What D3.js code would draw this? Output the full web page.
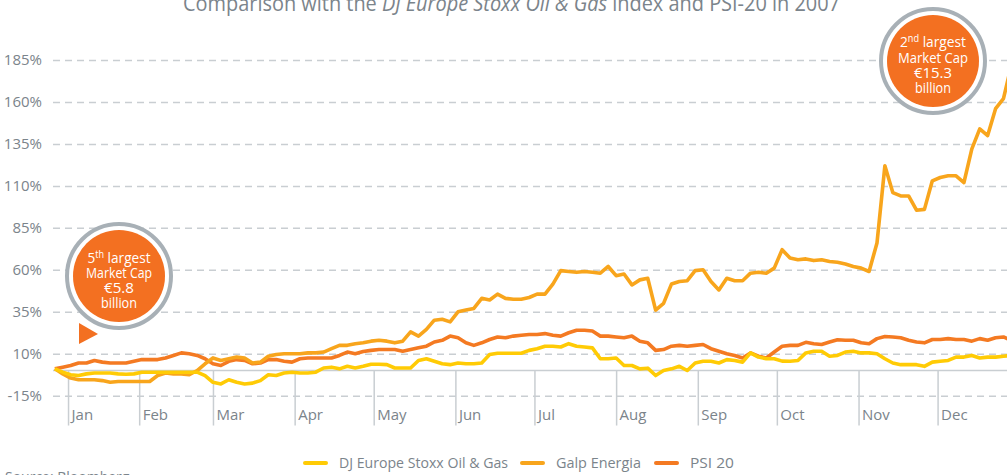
<!DOCTYPE html>
<html>
<head>
<meta charset="utf-8">
<script src="https://cdn.jsdelivr.net/npm/d3@7"></script>
<style>
	body { margin: 0; background: #fff; }
	svg { display: block; font-family: 'Open Sans', 'Noto Sans', sans-serif; }
</style>
</head>
<body>
<div id="chart"></div>
<script>

// ----------------------------------
// DATA (day of 2007, 0 = 1 Jan; values are % change)
// ----------------------------------

const days = [
	-1, 2, 5, 8, 11, 14, 17, 20, 23, 26,
	29, 32, 35, 38, 41, 44, 47, 50, 53, 56,
	59, 62, 65, 68, 71, 74, 77, 80, 83, 86,
	89, 92, 95, 98, 101, 104, 107, 110, 113, 116,
	119, 122, 125, 128, 131, 134, 137, 140, 143, 146,
	149, 152, 155, 158, 161, 164, 167, 170, 173, 176,
	179, 182, 185, 188, 191, 194, 197, 200, 203, 206,
	209, 212, 215, 218, 221, 224, 227, 230, 233, 236,
	239, 242, 245, 248, 251, 254, 257, 260, 263, 266,
	269, 272, 275, 278, 281, 284, 287, 290, 293, 296,
	299, 302, 305, 308, 311, 314, 317, 320, 323, 326,
	329, 332, 335, 338, 341, 344, 347, 350, 353, 356,
	359, 362
];

const stoxxValues = [
	1, -1, -2.5, -3, -2, -1.5, -1.5, -1.5, -2, -2.2,
	-2, -1, -1, -1, -1, -1, -1, -1, -1, -3,
	-7, -8, -5.5, -7, -8, -7.5, -6, -2.5, -3, -1.5,
	-1, -1.5, -1.5, -1, 1.5, 2, 1, 2.5, 1.5, 2.5,
	3.7, 3.7, 3.5, 1.5, 1.5, 1.5, 6, 7, 5.5, 4,
	3.5, 4.5, 4, 4, 4.5, 9.5, 10.3, 10.3, 10.3, 10.3,
	12, 13, 14.5, 14.5, 14, 16, 14.5, 14, 13.5, 7,
	7, 7.5, 3, 3, 1, 1.4, -3, 0, 1, 2.5,
	0, 4.5, 5.5, 5.5, 4.5, 6.5, 6, 5, 10.5, 8,
	7, 7, 5.6, 5.5, 6, 10.5, 11.5, 11.5, 8.5, 9,
	11, 11.5, 10.5, 10.5, 10, 7, 4.5, 3.5, 3.5, 3.5,
	2.5, 5, 5.5, 6, 8, 8, 9, 7.5, 8, 8,
	8.5, 9
];

const galpValues = [
	1, -2, -4.5, -5.5, -5.5, -5.5, -6, -7, -6.5, -6.5,
	-6.5, -6.5, -6.5, -3, -1.5, -2, -2, -2.5, 0, 4,
	7.5, 6, 7, 8, 7.5, 4.5, 5, 8.5, 9.5, 10,
	10, 10, 10.5, 10.5, 11, 13, 15, 15, 16, 16.5,
	17.5, 18, 17.5, 16.5, 17.5, 23, 20.5, 24.5, 30, 30.5,
	29, 35, 36, 37, 43, 42, 45.5, 43, 42.5, 42.5,
	43.5, 45.5, 45.5, 51.5, 59.5, 59, 58.5, 59, 58.5, 58,
	62, 56.5, 57.5, 51, 54, 55, 36, 40, 51.5, 53,
	53.5, 59.5, 60, 53, 48, 55, 53.5, 53.5, 58, 58.5,
	58, 61, 72, 67, 66, 66.5, 65.5, 66, 65, 64.5,
	63.5, 62, 61, 59, 76, 122, 106, 104, 104, 95.5,
	96, 113, 115, 116, 116, 112, 132, 144, 140, 156,
	162, 182
];

const psiValues = [
	1, 2, 3, 4.5, 4.5, 6, 5, 4.5, 4.5, 4.5,
	5.5, 6.5, 6.5, 6.5, 7.5, 9, 10.5, 10, 9, 7,
	4, 3, 5.5, 6.5, 6, 4, 4.5, 6.5, 6.5, 5.5,
	5, 7, 7.5, 7.5, 7.5, 7.5, 9, 11, 10, 11.3,
	12, 12.5, 12.5, 12.5, 11.5, 12.5, 13.5, 14.5, 17, 18,
	20.5, 19.5, 16.5, 15, 16.5, 18.5, 20, 19.5, 20.5, 21,
	21.5, 21.5, 22, 21, 20.5, 22.5, 24, 24, 23.5, 20.5,
	20.5, 20, 19.5, 20.5, 17.5, 16.5, 12, 12.5, 14.5, 15,
	14.5, 15, 15.5, 13, 11.5, 10, 9, 7.5, 10.5, 8.5,
	7.5, 11, 14.5, 15, 15, 16.8, 16, 15.5, 17, 18.3,
	18, 18, 16.5, 16, 19, 20.3, 20, 19.5, 18, 17,
	16.5, 18.5, 18.5, 19, 18.5, 18.5, 17.5, 19, 18, 19.5,
	20, 18
];

const seriesNames = ['DJ Europe Stoxx Oil & Gas', 'Galp Energia', 'PSI 20'];
const yTicks = [-15, 10, 35, 60, 85, 110, 135, 160, 185];
const monthTicks = [4, 31, 59, 90, 120, 151, 181, 212, 243, 273, 304, 334];
const monthLabels = ['Jan', 'Feb', 'Mar', 'Apr', 'May', 'Jun', 'Jul', 'Aug', 'Sep', 'Oct', 'Nov', 'Dec'];

const width = 1007,
	height = 475,
	gridLeft = 53,
	textGrey = '#7b848b',
	gridGrey = '#c9ced2';

const colors = {
	stoxx: '#ffcb05',
	galp: '#f8a51c',
	psi: '#f47a22'
};

// ----------------------------------
// SVG + SCALES
// ----------------------------------

const svg = d3.select('#chart')
	.append('svg')
	.attr('width', width)
	.attr('height', height);

const yScale = d3.scaleLinear()
	.domain([-15, 185])
	.range([395.7, 60]);

const xScale = d3.scaleLinear()
	.domain([0, 364])
	.range([57.5, 57.5 + 2.635 * 364]);

// ----------------------------------
// AXES
// ----------------------------------

const yAxis = svg.append('g')
	.attr('class', 'y axis')
	.attr('transform', `translate(${gridLeft}, 0)`)
	.call(d3.axisLeft(yScale)
		.tickValues(yTicks)
		.tickSize(-(width - gridLeft))
		.tickPadding(11)
		.tickFormat(d => d + '%'));

yAxis.select('.domain').remove();
yAxis.selectAll('.tick line')
	.style('stroke', gridGrey)
	.style('stroke-width', 1.5)
	.style('stroke-dasharray', '7,5');
yAxis.selectAll('.tick text')
	.style('fill', textGrey)
	.style('font-size', '15px')
	.style('font-family', "'Open Sans', sans-serif");

const xAxis = svg.append('g')
	.attr('class', 'x axis')
	.attr('transform', `translate(0, ${yScale(0)})`)
	.call(d3.axisBottom(xScale)
		.tickValues(monthTicks)
		.tickSize(55)
		.tickFormat((d, i) => monthLabels[i]));

xAxis.select('.domain').remove();
xAxis.selectAll('.tick line')
	.style('stroke', gridGrey)
	.style('stroke-width', 1.5);
xAxis.selectAll('.tick text')
	.attr('x', 3)
	.attr('y', 49)
	.attr('dy', 0)
	.attr('text-anchor', 'start')
	.style('fill', textGrey)
	.style('font-size', '15px')
	.style('font-family', "'Open Sans', sans-serif");

// solid zero line
svg.append('line')
	.attr('x1', gridLeft)
	.attr('x2', width)
	.attr('y1', yScale(0))
	.attr('y2', yScale(0))
	.style('stroke', gridGrey)
	.style('stroke-width', 1.5);

// ----------------------------------
// LINES
// ----------------------------------

const line = d3.line()
	.x((d, i) => xScale(days[i]))
	.y(d => yScale(d));

[
	{ values: psiValues, color: colors.psi },
	{ values: galpValues, color: colors.galp },
	{ values: stoxxValues, color: colors.stoxx }
].forEach(s => {
	svg.append('path')
		.datum(s.values)
		.attr('d', line)
		.attr('fill', 'none')
		.attr('stroke', s.color)
		.attr('stroke-width', 3.6)
		.style('stroke-linejoin', 'round');
});

// ----------------------------------
// CALLOUT BUBBLES
// ----------------------------------

function bubble(cx, cy, lines) {
	const g = svg.append('g');
	g.append('circle')
		.attr('cx', cx).attr('cy', cy).attr('r', 52)
		.attr('fill', '#fff')
		.attr('stroke', '#a8b0b6')
		.attr('stroke-width', 4);
	g.append('circle')
		.attr('cx', cx).attr('cy', cy).attr('r', 46)
		.attr('fill', '#f37021');
	lines.forEach(l => {
		const t = g.append('text')
			.attr('x', cx - l.w / 2)
			.attr('y', cy + l.dy)
			.attr('textLength', l.w)
			.attr('lengthAdjust', 'spacingAndGlyphs')
			.style('fill', '#fff')
			.style('font-size', '15px');
		if (l.sup) {
			t.append('tspan').text(l.pre);
			t.append('tspan').text(l.sup).attr('dy', -5).style('font-size', '10px');
			t.append('tspan').text(l.post).attr('dy', 5);
		} else {
			t.text(l.text);
		}
	});
	return g;
}

bubble(119, 276, [
	{ pre: '5', sup: 'th', post: ' largest', w: 63, dy: -13 },
	{ text: 'Market Cap', w: 66, dy: 2 },
	{ text: '€5.8', w: 30, dy: 17 },
	{ text: 'billion', w: 36, dy: 32 }
]);

bubble(933, 61, [
	{ pre: '2', sup: 'nd', post: ' largest', w: 66, dy: -14 },
	{ text: 'Market Cap', w: 70, dy: 2 },
	{ text: '€15.3', w: 38, dy: 17 },
	{ text: 'billion', w: 36, dy: 32 }
]);

// pointer under the first bubble
svg.append('path')
	.attr('d', 'M79,323 L79,344 L98,334 Z')
	.attr('fill', '#f37021');

// ----------------------------------
// TITLE, LEGEND, SOURCE
// ----------------------------------

const title = svg.append('text')
	.attr('x', 183)
	.attr('y', 11)
	.attr('textLength', 657)
	.attr('lengthAdjust', 'spacingAndGlyphs')
	.style('fill', textGrey)
	.style('font-size', '21px');
title.append('tspan').text('Comparison with the ');
title.append('tspan').text('DJ Europe Stoxx Oil & Gas').style('font-style', 'italic');
title.append('tspan').text(' index and PSI-20 in 2007');

const legendItems = [
	{ name: seriesNames[0], color: colors.stoxx, x: 303, w: 169 },
	{ name: seriesNames[1], color: colors.galp, x: 520, w: 85 },
	{ name: seriesNames[2], color: colors.psi, x: 654, w: 44 }
];

const legend = svg.append('g').attr('class', 'legend');
legendItems.forEach(item => {
	legend.append('line')
		.attr('x1', item.x + 2).attr('x2', item.x + 23)
		.attr('y1', 463).attr('y2', 463)
		.attr('stroke', item.color)
		.attr('stroke-width', 4)
		.attr('stroke-linecap', 'round');
	legend.append('text')
		.attr('x', item.x + 36)
		.attr('y', 468)
		.attr('textLength', item.w)
		.attr('lengthAdjust', 'spacingAndGlyphs')
		.style('fill', textGrey)
		.style('font-size', '15px')
		.text(item.name);
});

svg.append('text')
	.attr('x', 5)
	.attr('y', 482)
	.style('fill', textGrey)
	.style('font-size', '14px')
	.text('Source: Bloomberg');

</script>
</body>
</html>
